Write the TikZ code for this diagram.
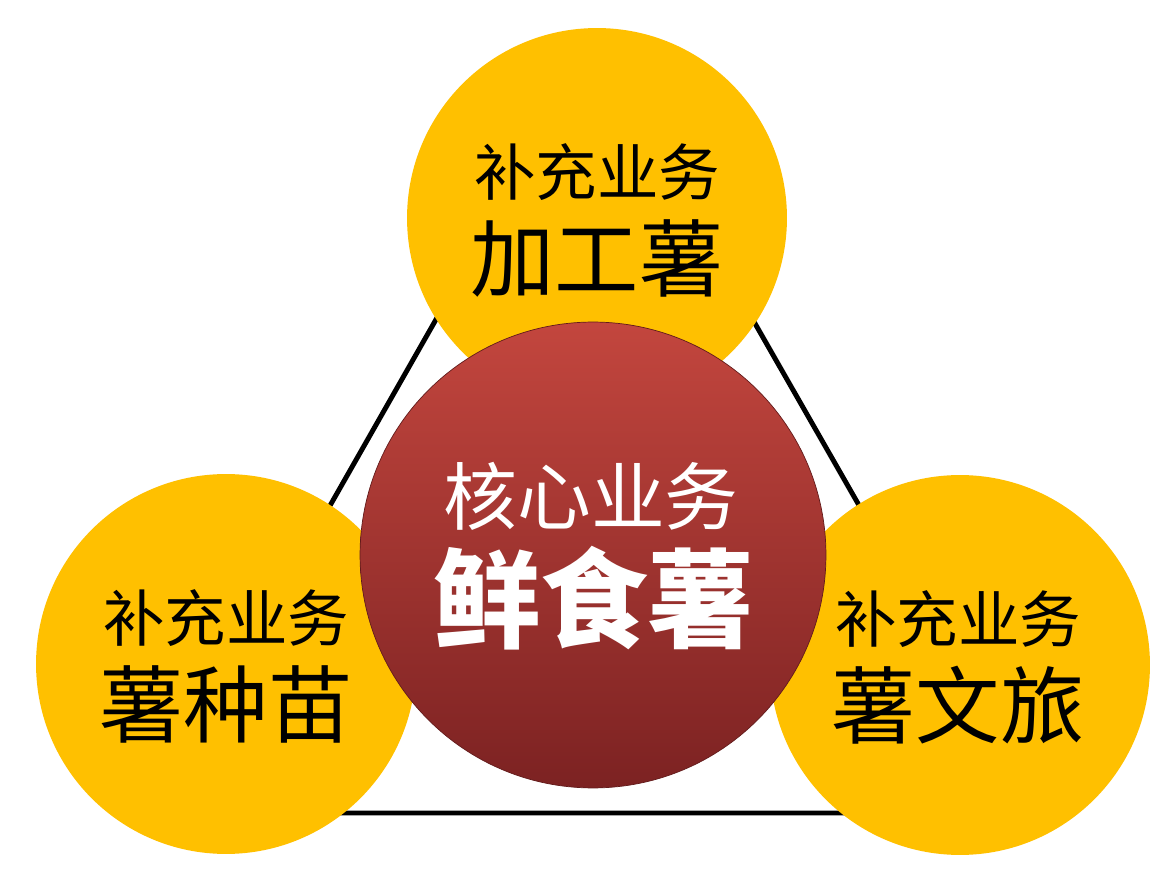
\documentclass[tikz,border=0pt]{standalone}
\usepackage{fontspec}
\newfontfamily\cjk{Noto Sans CJK SC}
\definecolor{gold}{HTML}{FFC000}
\definecolor{coretop}{HTML}{C3463E}
\definecolor{corebot}{HTML}{7C2222}
\tikzset{
  side/.style={circle, fill=gold, minimum size=7.6cm, inner sep=0pt},
  core/.style={circle, top color=coretop, bottom color=corebot,
               draw=corebot!80!black, thin, minimum size=9.32cm, inner sep=0pt},
  sublabel/.style={font=\cjk\fontsize{35}{40}\selectfont},
  mainlabel/.style={font=\cjk\fontsize{48}{54}\selectfont},
  corelabel/.style={text=white, font=\cjk\fontsize{42}{48}\selectfont},
  coretitle/.style={text=white, font=\cjk\bfseries\fontsize{61}{68}\selectfont},
}
\begin{document}
\begin{tikzpicture}[x=0.02cm, y=-0.02cm]
    \useasboundingbox [fill=white] (0, 0) rectangle (1170, 878);

    % Triangle
    \path (594, 42) coordinate (t0) (155, 813) coordinate (t1)
          (1035, 813) coordinate (t2);
    \draw [line width=2.8pt] (t0) -- (t1) -- (t2) -- cycle;

    % Side circles
    \foreach \n/\x/\y in {jg/597/218, zm/226/664, wl/960/665} {
      \node [side] (\n) at (\x, \y) {};
    }

    % Core circle
    \node [core] (hx) at (593, 555) {};

    % Labels
    \foreach \n/\x/\y/\t in {jg/597/218/加工薯, zm/226/664/薯种苗, wl/958/665/薯文旅} {
      \node [sublabel] (\n-a) at (\x, {\y-46}) {补充业务};
      \node [mainlabel] (\n-b) at (\x, {\y+40}) {\t};
    }
    \node [corelabel] (hx-a) at (591, 496) {核心业务};
    \node [coretitle] (hx-b) at (594, 598) {鲜食薯};
\end{tikzpicture}
\end{document}
